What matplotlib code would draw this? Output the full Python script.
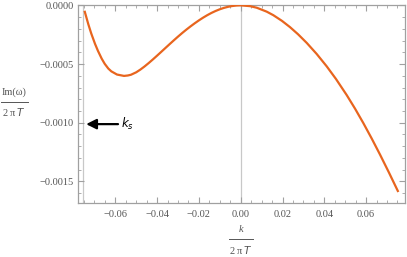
import matplotlib
matplotlib.use("Agg")
import matplotlib.pyplot as plt
from matplotlib.lines import Line2D
from matplotlib.ticker import MultipleLocator, FuncFormatter

# values (k in units of 1e-3, Im(w) in units of 1e-4)
k_read = [-74.74, -72.92, -71.48, -69.71, -68.28, -66.51, -65.07, -63.35, -61.91,
          -59.19, -55.84, -54.00, -52.49, -50, -48, -46, -44, -42, -40, -38, -36,
          -34, -32, -30, -28, -26, -24, -22, -20, -18, -16, -14, -12, -10, -8, -6,
          -4, -2, 0, 4.45, 7.66, 12.44, 15.60, 19.76, 23.59, 27.42, 31.58, 36.36,
          41.15, 45.60, 50.72, 54.69, 58.66, 62.68, 66.65, 70.96, 75.41]
im_read = [-0.459, -1.606, -2.412, -3.279, -3.887, -4.542, -4.981, -5.385, -5.623,
           -5.895, -6.012, -5.975, -5.912, -5.704, -5.472, -5.205, -4.913, -4.604,
           -4.284, -3.958, -3.630, -3.303, -2.980, -2.664, -2.358, -2.067, -1.791,
           -1.528, -1.280, -1.049, -0.837, -0.646, -0.478, -0.334, -0.215, -0.122,
           -0.055, -0.014, 0.0, -0.067, -0.202, -0.537, -0.837, -1.324, -1.856,
           -2.461, -3.197, -4.143, -5.197, -6.278, -7.645, -8.796, -10.027, -11.346,
           -12.712, -14.255, -15.902]
k_vals = [v * 1e-3 for v in k_read]
im_omega = [v * 1e-4 for v in im_read]

k_s = -0.07545
arrow_y = -0.001012
arrow_tail = -0.0587

serif = "Liberation Serif"
gray_txt = "#555555"
frame_col = "#a0a0a0"

plt.rcParams['mathtext.fontset'] = 'dejavusans'

fig = plt.figure(figsize=(4.07, 2.57), dpi=100)
ax = fig.add_axes([78 / 407, 54 / 257, 327 / 407, 198 / 257])

ax.axvline(k_s, color="#c8c8c8", lw=0.9, zorder=1)
ax.axvline(0.0, color="#c8c8c8", lw=0.9, zorder=1)
ax.plot(k_vals, im_omega, color="#E8651E", lw=1.6, zorder=3, solid_capstyle="butt")

ax.set_xlim(-0.07785, 0.07861)
ax.set_ylim(-0.001684, 0.000003)

ax.xaxis.set_major_locator(MultipleLocator(0.02))
ax.xaxis.set_minor_locator(MultipleLocator(0.005))
ax.yaxis.set_major_locator(MultipleLocator(0.0005))
ax.yaxis.set_minor_locator(MultipleLocator(0.0001))
ax.xaxis.set_major_formatter(FuncFormatter(lambda v, p: f"{v:.2f}".replace("-", "\u2212")))
ax.yaxis.set_major_formatter(FuncFormatter(lambda v, p: f"{v:.4f}".replace("-", "\u2212")))

for s in ax.spines.values():
    s.set_color(frame_col)
    s.set_linewidth(0.9)
ax.tick_params(which="both", direction="in", top=True, right=True, color=frame_col,
               labelcolor=gray_txt, labelsize=7.5)
ax.tick_params(which="major", length=4, width=0.8)
ax.tick_params(which="minor", length=2, width=0.6)
ax.tick_params(axis="x", pad=5)
ax.tick_params(axis="y", pad=3)
for lab in ax.get_xticklabels() + ax.get_yticklabels():
    lab.set_fontfamily(serif)

# arrow pointing at k_s
ax.annotate("", xy=(k_s + 0.0015, arrow_y), xytext=(arrow_tail, arrow_y),
            arrowprops=dict(arrowstyle="-|>,head_length=0.6,head_width=0.3",
                            color="black", lw=1.6, shrinkA=0, shrinkB=0))
ax.text(arrow_tail + 0.0015, arrow_y, r"$k_s$", fontsize=8.5, va="center", ha="left")

# y label as a fraction
fig.text(14 / 407, 1 - 92 / 257, "Im(\u03c9)", family=serif, fontsize=7.5,
         color=gray_txt, ha="center", va="center")
fig.add_artist(Line2D([1 / 407, 28 / 407], [1 - 101.7 / 257, 1 - 101.7 / 257],
                      color=gray_txt, lw=0.7))
fig.text(14 / 407, 1 - 111.5 / 257, "2\u2009\u03c0\u2009$\\it{T}$", family=serif,
         fontsize=7.5, color=gray_txt, ha="center", va="center")

# x label as a fraction
fig.text(240.7 / 407, 1 - 230 / 257, "k", family=serif, style="italic", fontsize=7.5,
         color=gray_txt, ha="center", va="center")
fig.add_artist(Line2D([229 / 407, 252.7 / 407], [1 - 239.3 / 257, 1 - 239.3 / 257],
                      color=gray_txt, lw=0.7))
fig.text(240.7 / 407, 1 - 249.5 / 257, "2\u2009\u03c0\u2009$\\it{T}$", family=serif,
         fontsize=7.5, color=gray_txt, ha="center", va="center")

fig.savefig("out.png", dpi=100)
